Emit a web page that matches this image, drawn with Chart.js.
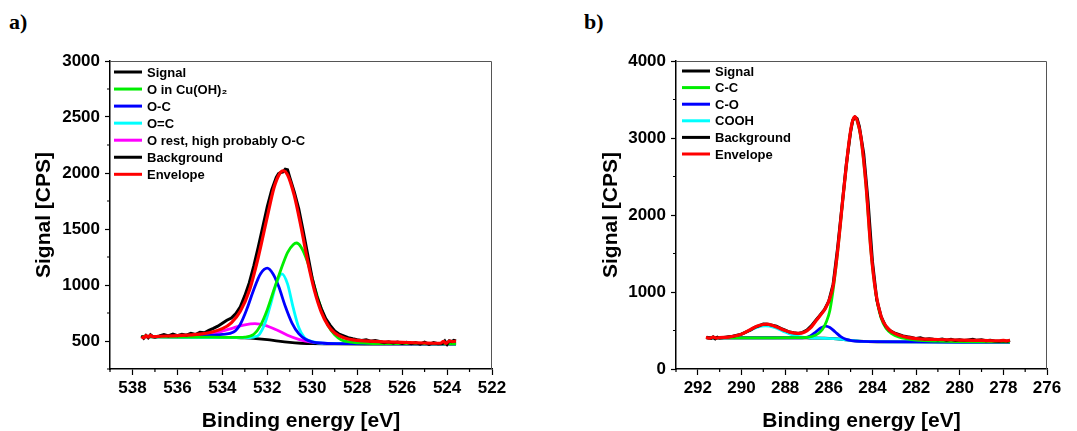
<!DOCTYPE html>
<html lang="en">
<head>
    <meta charset="UTF-8">
    <title>XPS O 1s and C 1s</title>
    <style>
        body {
            margin: 0;
            background: #fff;
            width: 1077px;
            height: 431px;
            overflow: hidden;
            position: relative;
            font-family: Arial, "Liberation Sans", sans-serif;
        }
        .panel-label {
            position: absolute;
            font-family: "Times New Roman", "Liberation Serif", serif;
            font-weight: bold;
            font-size: 22px;
            line-height: 22px;
        }
        canvas { position: absolute; top: 0; }
    </style>
</head>
<body>
    <div class="panel-label" style="left:9px; top:11px;">a)</div>
    <div class="panel-label" style="left:584px; top:11px;">b)</div>
    <canvas id="chartA" width="540" height="431" style="left:0;"></canvas>
    <canvas id="chartB" width="517" height="431" style="left:560px;"></canvas>

    <script src="https://cdn.jsdelivr.net/npm/chart.js"></script>
    <script>
        // ---- panel a: O 1s ----
        const aSignalE = [537.6,537.5,537.4,537.3,537.2,537.1,537.0,536.8,536.6,536.4,536.2,536.0,535.8,535.6,535.4,535.2,535.0,534.8,534.6,534.4,534.2,534.0,533.8,533.6,533.4,533.2,533.0,532.8,532.6,532.4,532.2,532.0,531.8,531.6,531.5,531.4,531.3,531.2,531.1,531.0,530.8,530.6,530.4,530.2,530.0,529.8,529.6,529.4,529.2,529.0,528.8,528.6,528.4,528.2,528.0,527.8,527.6,527.4,527.2,527.0,526.8,526.6,526.4,526.2,526.0,525.8,525.6,525.4,525.2,525.0,524.8,524.6,524.4,524.2,524.1,524.0,523.9,523.8,523.7,523.6];
        const aSignal  = [545,525,550,530,555,540,535,545,558,545,562,548,560,552,568,558,578,574,595,612,632,658,685,705,745,805,905,1020,1170,1340,1520,1700,1850,1960,1995,2005,2010,2035,2030,1960,1830,1680,1480,1270,1060,900,790,700,640,590,560,545,530,520,512,505,510,498,505,495,485,492,483,490,478,488,475,485,472,490,470,485,475,478,500,470,502,495,505,500];

        const aCuOHE = [537.6,535.0,533.5,533.0,532.6,532.3,532.0,531.7,531.4,531.1,530.85,530.7,530.5,530.2,529.9,529.6,529.3,529.0,528.7,528.3,527.5,526.0,523.6];
        const aCuOH  = [540,535,532,535,560,640,780,960,1134,1290,1360,1375,1340,1200,985,790,640,555,510,490,480,476,474];

        const aOCE = [537.6,535.5,535.0,534.5,534.0,533.5,533.2,532.9,532.6,532.3,532.0,531.75,531.5,531.2,530.9,530.6,530.3,530.0,529.5,528.5,523.6];
        const aOC  = [540,540,543,550,560,580,650,790,960,1100,1150,1100,990,810,660,565,515,492,480,476,474];

        const aOdCE = [537.6,533.0,532.6,532.35,532.1,531.85,531.6,531.35,531.1,530.85,530.6,530.35,530.0,529.5,528.0,523.6];
        const aOdC  = [540,530,535,560,660,830,1010,1100,1010,800,620,530,495,480,476,474];

        const aRestE = [537.6,536.0,535.0,534.5,534.0,533.5,533.0,532.55,532.1,531.6,531.1,530.6,530.1,529.5,528.5,523.6];
        const aRest  = [540,540,548,562,588,618,645,655,640,600,552,515,492,480,476,474];

        const aBackE = [537.6,537.0,535.0,534.0,533.0,532.5,532.0,531.5,531.0,530.5,530.0,529.0,527.0,523.6];
        const aBack  = [540,537,535,533,528,522,512,498,487,480,476,474,473,472];

        const aEnvE = [537.6,537.5,537.4,537.3,537.2,537.1,537.0,536.0,535.0,534.5,534.0,533.6,533.2,532.8,532.4,532.0,531.7,531.45,531.3,531.1,530.8,530.5,530.2,529.9,529.6,529.3,529.0,528.6,528.0,527.0,526.0,525.0,524.3,524.15,524.05,523.9,523.75,523.6];
        const aEnv  = [540,528,548,535,550,538,540,548,562,578,610,662,765,950,1250,1610,1870,1995,2020,1985,1800,1520,1210,950,760,640,572,530,505,494,487,482,480,496,478,500,495,500];

        const aLabels = ['Signal', 'O in Cu(OH)\u2082', 'O-C', 'O=C', 'O rest, high probably O-C', 'Background', 'Envelope'];

        // ---- panel b: C 1s ----
        const bSignalE = [291.6,291.5,291.4,291.3,291.2,291.1,291.0,290.8,290.6,290.4,290.2,290.0,289.8,289.6,289.4,289.2,289.0,288.8,288.6,288.4,288.2,288.0,287.8,287.6,287.4,287.2,287.0,286.8,286.6,286.4,286.2,286.0,285.8,285.6,285.4,285.2,285.0,284.9,284.8,284.7,284.6,284.4,284.2,284.0,283.8,283.6,283.4,283.2,283.0,282.8,282.6,282.4,282.2,282.0,281.8,281.6,281.4,281.2,281.0,280.8,280.6,280.4,280.2,280.0,279.8,279.6,279.4,279.2,279.0,278.8,278.6,278.4,278.2,278.0,277.8,277.7];
        const bSignal  = [415,405,398,418,392,412,402,410,418,425,438,452,478,505,540,560,585,580,570,555,528,505,480,470,462,475,505,560,630,700,770,880,1100,1560,2100,2650,3080,3230,3270,3250,3150,2800,2180,1400,900,680,560,500,470,450,430,418,410,395,405,388,392,385,380,390,375,385,372,380,370,378,385,372,380,366,372,365,360,368,362,375];

        const bCCE = [291.6,288.5,287.5,287.0,286.6,286.3,286.1,285.95,285.78,285.59,285.36,285.2,285.06,284.93,284.8,284.67,284.53,284.3,284.07,283.84,283.6,283.35,283.1,282.8,282.4,282.0,281.0,280.0,278.0,277.7];
        const bCC  = [405,405,407,412,440,510,620,760,1069,1530,2190,2620,2965,3195,3270,3195,3010,2405,1540,975,660,520,455,415,390,375,362,357,353,353];

        const bCOE = [291.6,288.0,287.4,287.1,286.85,286.6,286.35,286.15,285.95,285.7,285.45,285.2,284.9,284.5,284.0,282.0,277.7];
        const bCO  = [405,404,403,408,430,480,535,558,540,480,420,385,366,358,355,351,350];

        const bCOOHE = [291.6,291.0,290.5,290.1,289.7,289.3,288.9,288.5,288.1,287.7,287.3,286.9,286.4,285.8,285.4,285.0,284.5,284.0,282.0,277.7];
        const bCOOH  = [405,406,415,440,490,540,560,540,492,445,418,406,400,395,385,372,360,355,351,350];

        const bBackE = [291.6,289.0,287.0,286.2,285.8,285.4,285.0,284.6,284.2,283.5,282.0,280.0,277.7];
        const bBack  = [405,405,403,400,395,385,372,362,356,353,351,350,350];

        const bEnvE = [291.63,291.45,291.3,291.15,291.0,290.6,290.2,289.9,289.6,289.3,289.0,288.85,288.6,288.3,288.0,287.7,287.4,287.1,286.85,286.6,286.35,286.15,285.95,285.8,285.6,285.36,285.2,285.06,284.93,284.8,284.67,284.53,284.3,284.07,283.84,283.6,283.35,283.1,282.8,282.4,282.0,281.0,280.0,279.0,278.2,278.0,277.85,277.7];
        const bEnv  = [412,400,415,402,408,415,435,465,510,555,578,582,568,535,500,472,462,480,530,620,710,790,920,1080,1520,2195,2630,2974,3200,3277,3200,3017,2411,1545,983,680,545,480,440,410,395,383,376,371,367,372,365,374];

        const bLabels = ['Signal', 'C-C', 'C-O', 'COOH', 'Background', 'Envelope'];

        const FONT = 'Arial, "Liberation Sans", sans-serif';

        function pts(xs, ys) {
            return xs.map((x, i) => ({x: x, y: ys[i]}));
        }

        function line(label, xs, ys, color, width, order, smooth) {
            return {
                label: label,
                data: pts(xs, ys),
                borderColor: color,
                backgroundColor: color,
                borderWidth: width,
                pointRadius: 0,
                fill: false,
                order: order,
                tension: smooth ? 0.4 : 0,
                cubicInterpolationMode: smooth ? 'monotone' : 'default'
            };
        }

        // legend drawn inside the plot, top-left, like the original figure
        const insideLegend = {
            id: 'insideLegend',
            afterDatasetsDraw(chart, args, opts) {
                const {ctx, chartArea} = chart;
                ctx.save();
                ctx.font = 'bold 13px ' + FONT;
                ctx.textBaseline = 'middle';
                ctx.textAlign = 'left';
                chart.data.datasets.forEach((ds, i) => {
                    const y = chartArea.top + opts.y0 + i * opts.dy;
                    const x = chartArea.left + opts.x0;
                    ctx.strokeStyle = ds.borderColor;
                    ctx.lineWidth = 3;
                    ctx.beginPath();
                    ctx.moveTo(x, y);
                    ctx.lineTo(x + opts.len, y);
                    ctx.stroke();
                    ctx.fillStyle = '#000';
                    ctx.fillText(ds.label, x + opts.len + 5, y + 1);
                });
                ctx.restore();
            }
        };

        // top/right frame and short minor ticks
        const frame = {
            id: 'frame',
            afterDraw(chart, args, opts) {
                const {ctx, chartArea: a, scales} = chart;
                ctx.save();
                ctx.strokeStyle = '#555';
                ctx.lineWidth = 1;
                ctx.beginPath();
                ctx.moveTo(a.left, a.top + 0.5);
                ctx.lineTo(a.right - 0.5, a.top + 0.5);
                ctx.lineTo(a.right - 0.5, a.bottom);
                ctx.stroke();
                ctx.strokeStyle = '#000';
                ctx.lineWidth = 1.2;
                ctx.beginPath();
                scales.x.ticks.forEach(t => {
                    if (t.value % 2 !== 0) {
                        const px = scales.x.getPixelForValue(t.value);
                        ctx.moveTo(px, a.bottom);
                        ctx.lineTo(px, a.bottom + 3);
                    }
                });
                scales.y.ticks.forEach(t => {
                    if (t.value % opts.yMajor !== 0) {
                        const py = scales.y.getPixelForValue(t.value);
                        ctx.moveTo(a.left, py);
                        ctx.lineTo(a.left - 3, py);
                    }
                });
                ctx.stroke();
                ctx.restore();
            }
        };

        function makeChart(id, cfg) {
            const tickFont = {family: FONT, size: 17, weight: 'bold'};
            const titleFont = {family: FONT, size: 21, weight: 'bold', lineHeight: 1};
            return new Chart(document.getElementById(id), {
                type: 'line',
                data: {datasets: cfg.datasets},
                plugins: [insideLegend, frame],
                options: {
                    responsive: false,
                    animation: false,
                    events: [],
                    layout: {padding: {top: 61, right: cfg.padRight, bottom: 0, left: 0}},
                    plugins: {
                        legend: {display: false},
                        tooltip: {enabled: false},
                        insideLegend: cfg.legend,
                        frame: {yMajor: cfg.yMajor}
                    },
                    scales: {
                        x: {
                            type: 'linear',
                            reverse: true,
                            min: cfg.xMin,
                            max: cfg.xMax,
                            afterFit: s => { s.height = 62; },
                            border: {color: '#000', width: 1.5},
                            grid: {
                                drawOnChartArea: false,
                                tickLength: 6,
                                tickWidth: 1.2,
                                tickColor: c => (c.tick && c.tick.value % 2 === 0) ? '#000' : 'rgba(0,0,0,0)'
                            },
                            ticks: {
                                stepSize: 1,
                                autoSkip: false,
                                maxRotation: 0,
                                maxTicksLimit: 100,
                                padding: 3,
                                color: '#000',
                                font: tickFont,
                                callback: v => (v % 2 === 0 ? String(v) : '')
                            },
                            title: {
                                display: true,
                                text: 'Binding energy [eV]',
                                color: '#000',
                                font: titleFont,
                                padding: {top: 0, bottom: -1}
                            }
                        },
                        y: {
                            min: cfg.yMin,
                            max: cfg.yMax,
                            afterFit: s => { s.width = cfg.yWidth; },
                            border: {color: '#000', width: 1.5},
                            grid: {
                                drawOnChartArea: false,
                                tickLength: 5,
                                tickWidth: 1.2,
                                tickColor: c => (c.tick && c.tick.value % cfg.yMajor === 0) ? '#000' : 'rgba(0,0,0,0)'
                            },
                            ticks: {
                                stepSize: cfg.yStep,
                                autoSkip: false,
                                maxTicksLimit: 100,
                                padding: 5,
                                color: '#000',
                                font: tickFont,
                                callback: v => (v % cfg.yMajor === 0 && v > 0 || v === 0 && cfg.yMin === 0 ? String(v) : '')
                            },
                            title: {
                                display: true,
                                text: 'Signal [CPS]',
                                color: '#000',
                                font: titleFont,
                                padding: {top: cfg.yTitlePad, bottom: 0}
                            }
                        }
                    }
                }
            });
        }

        makeChart('chartA', {
            datasets: [
                line(aLabels[0], aSignalE, aSignal, '#000000', 3, 1, false),
                line(aLabels[1], aCuOHE, aCuOH, '#00ee00', 2.8, 2, true),
                line(aLabels[2], aOCE, aOC, '#0000ff', 2.8, 2, true),
                line(aLabels[3], aOdCE, aOdC, '#00ffff', 2.8, 2, true),
                line(aLabels[4], aRestE, aRest, '#ff00ff', 2.8, 2, true),
                line(aLabels[5], aBackE, aBack, '#000000', 2.8, 3, true),
                line(aLabels[6], aEnvE, aEnv, '#ff0000', 3.2, 0, true)
            ],
            xMin: 522, xMax: 539,
            yMin: 250, yMax: 3000, yStep: 250, yMajor: 500,
            yWidth: 110, yTitlePad: 34, padRight: 48,
            legend: {x0: 4, y0: 11, dy: 17.05, len: 28}
        });

        makeChart('chartB', {
            datasets: [
                line(bLabels[0], bSignalE, bSignal, '#000000', 3, 1, false),
                line(bLabels[1], bCCE, bCC, '#00ee00', 2.8, 2, true),
                line(bLabels[2], bCOE, bCO, '#0000ff', 2.8, 2, true),
                line(bLabels[3], bCOOHE, bCOOH, '#00ffff', 2.8, 2, true),
                line(bLabels[4], bBackE, bBack, '#000000', 2.8, 3, true),
                line(bLabels[5], bEnvE, bEnv, '#ff0000', 3.2, 0, true)
            ],
            xMin: 276, xMax: 293,
            yMin: 0, yMax: 4000, yStep: 500, yMajor: 1000,
            yWidth: 116, yTitlePad: 41, padRight: 30,
            legend: {x0: 6, y0: 10, dy: 16.6, len: 28}
        });
    </script>
</body>
</html>
